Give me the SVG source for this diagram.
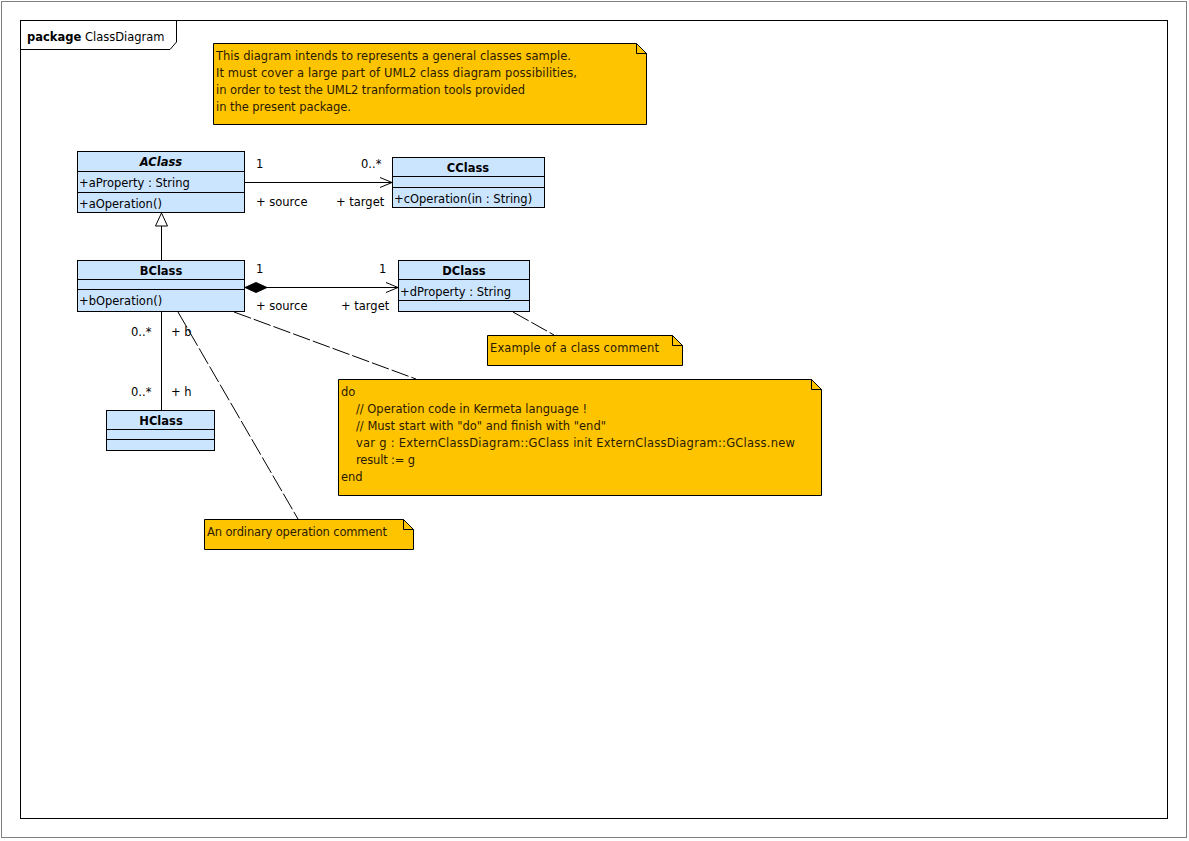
<svg xmlns="http://www.w3.org/2000/svg" width="1189" height="841" viewBox="0 0 1189 841">
  <defs>
    <style>
      text { font-family: "DejaVu Sans", "Liberation Sans", sans-serif; font-size: 11.5px; fill: #000; }
      .title { font-weight: bold; text-anchor: middle; }
      .abstract { font-style: italic; }
      .cls { fill: #CCE5FF; stroke: #000; stroke-width: 1; }
      .sep { stroke: #000; stroke-width: 1; }
      .note { fill: #FFC400; stroke: #000; stroke-width: 1; }
      .ntext { fill: #2a1a00; }
      .assoc { stroke: #000; stroke-width: 1; fill: none; }
      .link { stroke: #000; stroke-width: 1; fill: none; stroke-dasharray: 18 3; }
    </style>
    <marker id="open" markerWidth="14" markerHeight="12" refX="13" refY="6" orient="auto" markerUnits="userSpaceOnUse">
      <path d="M1,1 L13,6 L1,11" fill="none" stroke="#000" stroke-width="1"/>
    </marker>
    <marker id="diamond" markerWidth="24" markerHeight="12" refX="1" refY="6" orient="auto" markerUnits="userSpaceOnUse">
      <path d="M1,6 L12,1 L23,6 L12,11 Z" fill="#000" stroke="#000"/>
    </marker>
    <marker id="inherit" markerWidth="16" markerHeight="14" refX="14" refY="7" orient="auto" markerUnits="userSpaceOnUse">
      <path d="M14,7 L1,1 L1,13 Z" fill="#fff" stroke="#000"/>
    </marker>
  </defs>

  <!-- sheet border and package frame -->
  <rect x="1.5" y="1.5" width="1185" height="836" fill="#fff" stroke="#000" stroke-width="1" stroke-dasharray="1 1"/>
  <rect x="20.5" y="20.5" width="1147" height="798" fill="#fff" stroke="#000" stroke-width="1"/>
  <path d="M20.5,49.5 L170,49.5 L176.5,42 L176.5,20.5" fill="none" stroke="#000" stroke-width="1"/>
  <text x="27" y="41"><tspan font-weight="bold">package</tspan> ClassDiagram</text>

  <!-- connectors -->
  <g id="connectors">
    <!-- generalization BClass -> AClass -->
    <line class="assoc" x1="161.5" y1="260" x2="161.5" y2="213" marker-end="url(#inherit)"/>
    <!-- association AClass -> CClass -->
    <line class="assoc" x1="245" y1="182.5" x2="392" y2="182.5" marker-end="url(#open)"/>
    <text x="256" y="168">1</text>
    <text x="361" y="168">0..*</text>
    <text x="256" y="206">+ source</text>
    <text x="336" y="206">+ target</text>
    <!-- composition BClass -> DClass -->
    <line class="assoc" x1="245" y1="287.5" x2="398" y2="287.5" marker-start="url(#diamond)" marker-end="url(#open)"/>
    <text x="256" y="273">1</text>
    <text x="379" y="273">1</text>
    <text x="256" y="310">+ source</text>
    <text x="341" y="310">+ target</text>
    <!-- association BClass - HClass -->
    <line class="assoc" x1="161.5" y1="312" x2="161.5" y2="410"/>
    <text x="131" y="336">0..*</text>
    <text x="171" y="336">+ b</text>
    <text x="131" y="396">0..*</text>
    <text x="171" y="396">+ h</text>
    <!-- comment links -->
    <line class="link" x1="513" y1="312" x2="554" y2="335"/>
    <line class="link" x1="234" y1="312" x2="416" y2="379"/>
    <line class="link" x1="178" y1="312" x2="298" y2="519"/>
  </g>

  <!-- general note -->
  <g id="note-general">
    <path class="note" d="M213.5,43.5 H636.5 L646.5,53.5 V124.5 H213.5 Z"/>
    <path d="M636.5,43.5 V53.5 H646.5" fill="none" stroke="#000"/>
    <text class="ntext" x="216" y="60" textLength="355">This diagram intends to represents a general classes sample.</text>
    <text class="ntext" x="216" y="77" textLength="361">It must cover a large part of UML2 class diagram possibilities,</text>
    <text class="ntext" x="216" y="94" textLength="309">in order to test the UML2 tranformation tools provided</text>
    <text class="ntext" x="216" y="111" textLength="135">in the present package.</text>
  </g>

  <!-- AClass -->
  <g id="AClass">
    <rect class="cls" x="77.5" y="151.5" width="167" height="61"/>
    <line class="sep" x1="78" y1="171.5" x2="244" y2="171.5"/>
    <line class="sep" x1="78" y1="192.5" x2="244" y2="192.5"/>
    <text class="title abstract" x="161" y="166">AClass</text>
    <text x="79" y="187">+aProperty : String</text>
    <text x="79" y="208">+aOperation()</text>
  </g>

  <!-- CClass -->
  <g id="CClass">
    <rect class="cls" x="392.5" y="157.5" width="152" height="50"/>
    <line class="sep" x1="393" y1="176.5" x2="544" y2="176.5"/>
    <line class="sep" x1="393" y1="187.5" x2="544" y2="187.5"/>
    <text class="title" x="468" y="172">CClass</text>
    <text x="394" y="203">+cOperation(in : String)</text>
  </g>

  <!-- BClass -->
  <g id="BClass">
    <rect class="cls" x="77.5" y="260.5" width="167" height="51"/>
    <line class="sep" x1="78" y1="279.5" x2="244" y2="279.5"/>
    <line class="sep" x1="78" y1="289.5" x2="244" y2="289.5"/>
    <text class="title" x="161" y="275">BClass</text>
    <text x="79" y="305">+bOperation()</text>
  </g>

  <!-- DClass -->
  <g id="DClass">
    <rect class="cls" x="398.5" y="260.5" width="131" height="51"/>
    <line class="sep" x1="399" y1="279.5" x2="529" y2="279.5"/>
    <line class="sep" x1="399" y1="300.5" x2="529" y2="300.5"/>
    <text class="title" x="464" y="275">DClass</text>
    <text x="400" y="296">+dProperty : String</text>
  </g>

  <!-- HClass -->
  <g id="HClass">
    <rect class="cls" x="106.5" y="410.5" width="108" height="40"/>
    <line class="sep" x1="107" y1="429.5" x2="214" y2="429.5"/>
    <line class="sep" x1="107" y1="439.5" x2="214" y2="439.5"/>
    <text class="title" x="161" y="425">HClass</text>
  </g>

  <!-- class comment -->
  <g id="note-class">
    <path class="note" d="M487.5,335.5 H672.5 L682.5,345.5 V365.5 H487.5 Z"/>
    <path d="M672.5,335.5 V345.5 H682.5" fill="none" stroke="#000"/>
    <text class="ntext" x="490" y="352" textLength="169">Example of a class comment</text>
  </g>

  <!-- operation code comment -->
  <g id="note-code">
    <path class="note" d="M338.5,379.5 H811.5 L821.5,389.5 V495.5 H338.5 Z"/>
    <path d="M811.5,379.5 V389.5 H821.5" fill="none" stroke="#000"/>
    <text class="ntext" x="341" y="396">do</text>
    <text class="ntext" x="356" y="413" textLength="231">// Operation code in Kermeta language !</text>
    <text class="ntext" x="356" y="430" textLength="250">// Must start with "do" and finish with "end"</text>
    <text class="ntext" x="356" y="447" textLength="439">var g : ExternClassDiagram::GClass init ExternClassDiagram::GClass.new</text>
    <text class="ntext" x="356" y="464" textLength="59">result := g</text>
    <text class="ntext" x="341" y="481">end</text>
  </g>

  <!-- operation comment -->
  <g id="note-operation">
    <path class="note" d="M204.5,519.5 H403.5 L413.5,529.5 V549.5 H204.5 Z"/>
    <path d="M403.5,519.5 V529.5 H413.5" fill="none" stroke="#000"/>
    <text class="ntext" x="207" y="536" textLength="180">An ordinary operation comment</text>
  </g>
</svg>
